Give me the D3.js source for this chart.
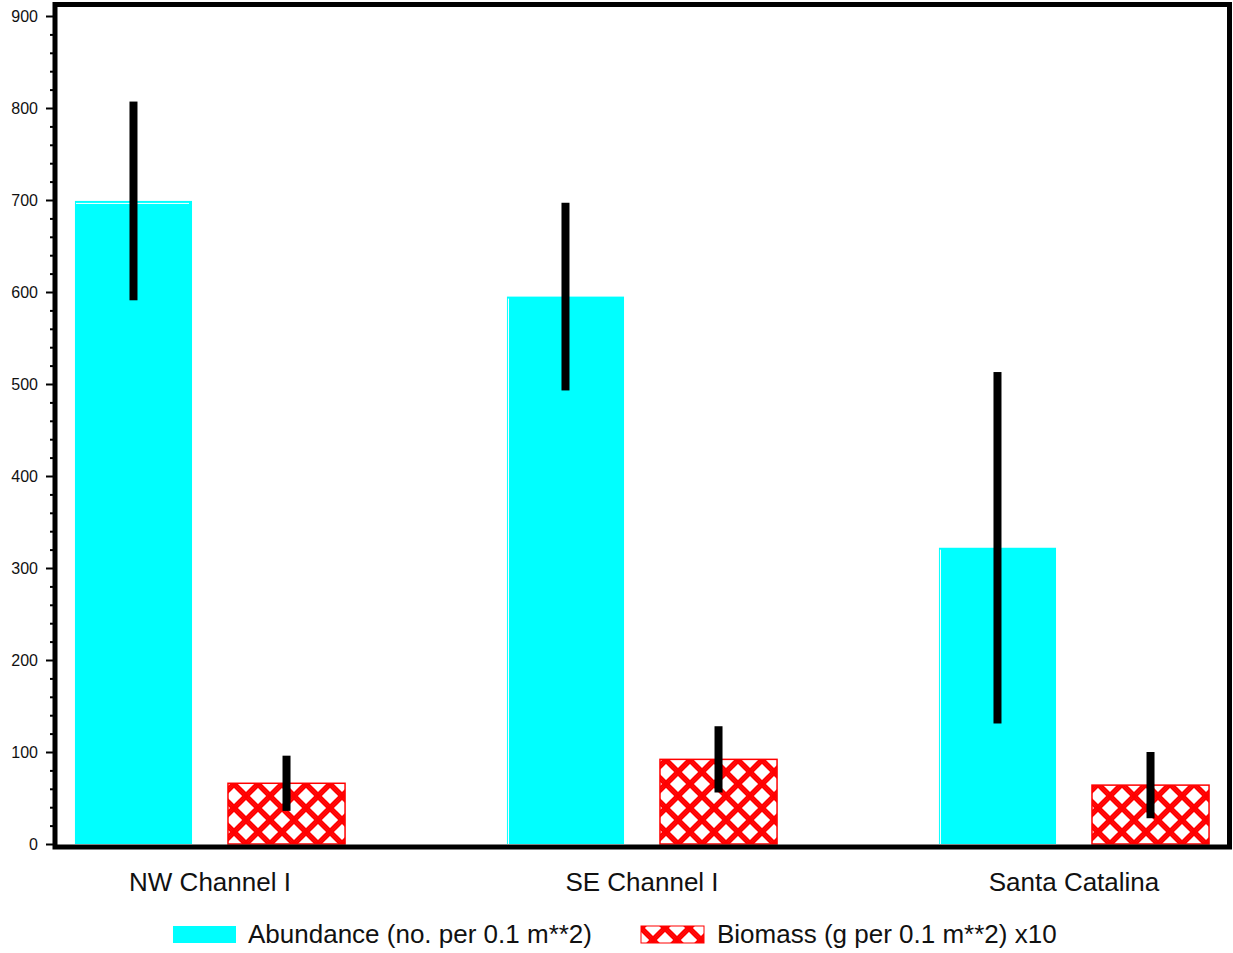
<!DOCTYPE html>
<html>
<head>
<meta charset="utf-8">
<script src="https://cdn.jsdelivr.net/npm/d3@7"></script>
<style>
  html, body { margin: 0; padding: 0; background: #fff; }
  svg { display: block; font-family: "Liberation Sans", Arial, sans-serif; }
</style>
</head>
<body>
<svg id="chart" width="1233" height="953"></svg>
<script>
// Sampling sites along the x axis
const sites = ["NW Channel I", "SE Channel I", "Santa Catalina"];
// Series shown per site
const seriesKeys = ["abundance", "biomass"];
const seriesLabels = ["Abundance (no. per 0.1 m**2)", "Biomass (g per 0.1 m**2) x10"];
// Mean values per site
const abundance = [699, 595, 322];
const biomass = [66, 92, 64];
// Error bar half-lengths per site
const abundanceErr = [108, 102, 191];
const biomassErr = [30, 36, 36];
// Y axis ticks
const yTicks = [0, 100, 200, 300, 400, 500, 600, 700, 800, 900];
const yMinorTicks = d3.range(0, 901, 20).filter(v => v % 100 !== 0);

const svg = d3.select("#chart");

const y = d3.scaleLinear().domain([0, 900]).range([844, 16]);
const x0 = d3.scaleBand().domain(sites).range([-6, 1290]);
const x1 = d3.scaleBand().domain(seriesKeys).range([0, x0.bandwidth()])
  .paddingInner(0.235).paddingOuter(0.529);

const frame = { left: 55, top: 4.5, right: 1229.5, bottom: 847 };

// Crosshatch fill for the biomass bars
const defs = svg.append("defs");
const pat = defs.append("pattern")
  .attr("id", "hatch")
  .attr("patternUnits", "userSpaceOnUse")
  .attr("width", 24).attr("height", 24)
  .attr("x", 228).attr("y", 796);
pat.append("rect").attr("width", 24).attr("height", 24).attr("fill", "#fff");
const offs = [-2.4, 0, 2.4];
[[0, 0, 24, 24], [0, 24, 24, 0]].forEach(([ax, ay, bx, by]) => {
  // repeat each diagonal at tile corners so bands are continuous
  [[0, 0], [24, 0], [-24, 0], [0, 24], [0, -24]].forEach(([sx, sy]) => {
    offs.forEach(o => {
      pat.append("line")
        .attr("x1", ax + sx + o).attr("y1", ay + sy)
        .attr("x2", bx + sx + o).attr("y2", by + sy)
        .attr("stroke", "#ff0000").attr("stroke-width", 2.1);
    });
  });
});

const data = sites.map((s, i) => ({
  site: s,
  values: [
    { key: "abundance", value: abundance[i], err: abundanceErr[i] },
    { key: "biomass", value: biomass[i], err: biomassErr[i] }
  ]
}));

const groups = svg.append("g").selectAll("g")
  .data(data).join("g")
  .attr("transform", d => `translate(${x0(d.site)},0)`);

// Bars
groups.selectAll("rect.bar")
  .data(d => d.values).join("rect")
  .attr("class", "bar")
  .attr("x", d => x1(d.key))
  .attr("y", d => y(d.value))
  .attr("width", x1.bandwidth())
  .attr("height", d => y(0) - y(d.value))
  .attr("fill", d => d.key === "abundance" ? "#00ffff" : "url(#hatch)")
  .attr("stroke", d => d.key === "abundance" ? "none" : "#ff0000")
  .attr("stroke-width", 1.5);

// Thin light seams along the abundance bar edges
groups.each(function (d, i) {
  const g = d3.select(this);
  const v = d.values[0];
  const bx = x1(v.key);
  if (i === 0) {
    g.append("line")
      .attr("x1", bx + 1).attr("x2", bx + x1.bandwidth() - 3)
      .attr("y1", y(v.value) + 2.5).attr("y2", y(v.value) + 2.5)
      .attr("stroke", "#fff").attr("stroke-width", 1);
  } else {
    g.append("line")
      .attr("x1", bx + 1.5).attr("x2", bx + 1.5)
      .attr("y1", y(v.value) + 2).attr("y2", y(0))
      .attr("stroke", "#fff").attr("stroke-width", 1);
  }
});

// Error bars
groups.selectAll("rect.err")
  .data(d => d.values).join("rect")
  .attr("class", "err")
  .attr("x", d => x1(d.key) + x1.bandwidth() / 2 - 4)
  .attr("y", d => y(d.value + d.err))
  .attr("width", 8)
  .attr("height", d => y(d.value - d.err) - y(d.value + d.err))
  .attr("fill", "#000");

// Frame
svg.append("rect")
  .attr("x", frame.left).attr("y", frame.top)
  .attr("width", frame.right - frame.left)
  .attr("height", frame.bottom - frame.top)
  .attr("fill", "none").attr("stroke", "#000").attr("stroke-width", 5);

// Y axis
const yAxis = svg.append("g")
  .attr("transform", "translate(53,0)")
  .call(d3.axisLeft(y).tickValues(yTicks).tickSize(7).tickPadding(8).tickFormat(d3.format("d")));
yAxis.select(".domain").remove();
yAxis.selectAll(".tick line").attr("stroke", "#000").attr("stroke-width", 2);
yAxis.selectAll("text").attr("font-size", 16).attr("fill", "#111")
  .attr("font-family", "'Liberation Sans', Arial, sans-serif");

const yMinor = svg.append("g")
  .attr("transform", "translate(53,0)")
  .call(d3.axisLeft(y).tickValues(yMinorTicks).tickSize(3).tickFormat(""));
yMinor.select(".domain").remove();
yMinor.selectAll(".tick line").attr("stroke", "#000").attr("stroke-width", 2);

// Category labels
svg.append("g").selectAll("text")
  .data(sites).join("text")
  .attr("x", d => x0(d) + x0.bandwidth() / 2)
  .attr("y", 891)
  .attr("text-anchor", "middle")
  .attr("font-size", 26)
  .attr("fill", "#111")
  .text(d => d);

// Legend
const legendX = [173, 641];
const legend = svg.append("g").selectAll("g")
  .data(seriesKeys).join("g")
  .attr("transform", (d, i) => `translate(${legendX[i]},0)`);
legend.append("rect")
  .attr("x", 0).attr("y", 926)
  .attr("width", 63).attr("height", 17)
  .attr("fill", d => d === "abundance" ? "#00ffff" : "url(#hatch)")
  .attr("stroke", d => d === "abundance" ? "none" : "#ff0000")
  .attr("stroke-width", 1);
legend.append("text")
  .attr("x", (d, i) => i === 0 ? 75 : 76)
  .attr("y", 943)
  .attr("font-size", 26)
  .attr("fill", "#111")
  .text((d, i) => seriesLabels[i]);
</script>
</body>
</html>
